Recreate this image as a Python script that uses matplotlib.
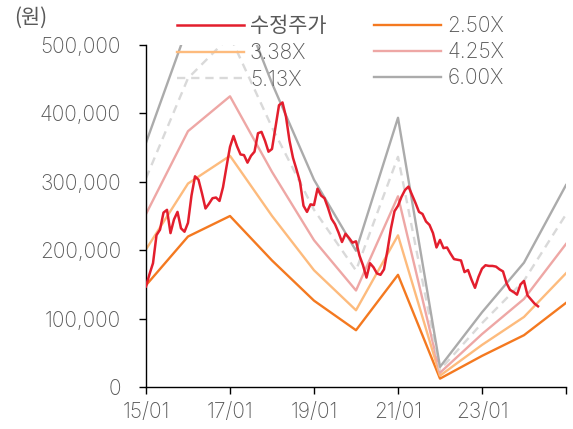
import numpy as np
import matplotlib
matplotlib.use('Agg')
import matplotlib.pyplot as plt

plt.rcParams['font.family'] = ['Inter', 'Noto Sans CJK KR', 'DejaVu Sans']

# yearly book value per share (won), read at each January
years = list(range(2015, 2026))
bps = [59500, 88000, 100000, 74000, 50500, 33200, 65600, 4900, 18200, 30300, 49200]

multiples = [2.50, 3.38, 4.25, 5.13, 6.00]
band_labels = ['2.50X', '3.38X', '4.25X', '5.13X', '6.00X']
band_colors = ['#F47920', '#FDBB7D', '#EEA7A5', '#D9D9D9', '#ABABAB']

# monthly adjusted price (수정주가), 2015/01 - 2024/05, thousand won
price_k = [147, 165, 181, 222, 230, 255, 259, 225, 245, 256, 232, 227,
           240, 280, 308, 303, 283, 261, 268, 276, 277, 272, 292, 322,
           351, 367, 352, 340, 339, 328, 338, 344, 371, 373, 360, 344,
           348, 380, 412, 416, 395, 360, 335, 318, 300, 265, 256, 267,
           266, 290, 280, 276, 262, 246, 238, 226, 212, 224, 218, 211,
           213, 192, 178, 160, 181, 175, 166, 164, 172, 200, 232, 257,
           265, 278, 288, 293, 281, 269, 256, 253, 242, 237, 225, 204,
           215, 203, 204, 195, 187, 186, 185, 168, 171, 157, 145, 161,
           173, 178, 177, 177, 176, 172, 169, 152, 142, 139, 135, 150,
           155, 134, 128, 122, 118]

tick_years = [2015, 2017, 2019, 2021, 2023, 2025]
tick_labels = ['15/01', '17/01', '19/01', '21/01', '23/01', '']
y_ticks = [0, 100000, 200000, 300000, 400000, 500000]

text_color = '#595959'
kr_font = ['Noto Sans CJK KR']

fig = plt.figure(figsize=(5.73, 4.29), dpi=100)
ax = fig.add_axes([146 / 573, 1 - 387 / 429, 420 / 573, 342 / 429])

price_x = 2015 + np.arange(len(price_k)) / 12.0
price = np.array(price_k) * 1000

handles = {}
for mult, label, color in zip(multiples, band_labels, band_colors):
    vals = np.array(bps) * mult
    if label == '5.13X':
        line, = ax.plot(years, vals, color=color, lw=1.7, dashes=(3.5, 2.5))
    else:
        line, = ax.plot(years, vals, color=color, lw=1.7)
    handles[label] = line

red, = ax.plot(price_x, price, color='#E31E2D', lw=1.8, zorder=5)
handles['수정주가'] = red

ax.set_xlim(2015, 2025)
ax.set_ylim(0, 500000)
ax.set_xticks(tick_years)
ax.set_xticklabels(tick_labels, fontweight='light')
ax.set_yticks(y_ticks)
ax.set_yticklabels(['{:,}'.format(v) for v in y_ticks], fontweight='light')

for side in ['top', 'right']:
    ax.spines[side].set_visible(False)
for side in ['left', 'bottom']:
    ax.spines[side].set_color('black')
    ax.spines[side].set_linewidth(1.0)

ax.tick_params(axis='both', direction='out', length=5, width=1.0,
               colors='black', labelcolor=text_color, labelsize=15)
ax.tick_params(axis='y', pad=13)
ax.tick_params(axis='x', pad=6)

order = ['수정주가', '3.38X', '5.13X', '2.50X', '4.25X', '6.00X']
leg = fig.legend([handles[k] for k in order], order, ncol=2,
                 loc='upper left', bbox_to_anchor=(177 / 573, 1 - 15 / 429),
                 frameon=False, fontsize=15, handlelength=3.2,
                 handletextpad=0.3, columnspacing=2.3, labelspacing=0.3,
                 borderpad=0, borderaxespad=0)
for t in leg.get_texts():
    t.set_color(text_color)
    if t.get_text() == '수정주가':
        t.set_fontfamily(kr_font)
        t.set_fontweight('regular')
    else:
        t.set_fontweight('light')

fig.text(14 / 573, 1 - 18 / 429, '(원)', fontsize=15, color=text_color,
         va='center', ha='left', family=kr_font, fontweight='regular')

fig.savefig('out.png', dpi=100)
